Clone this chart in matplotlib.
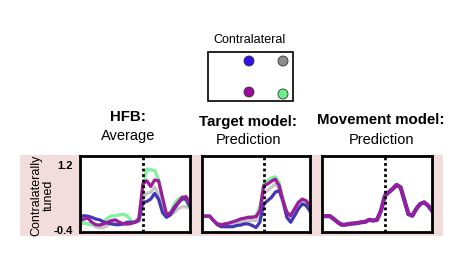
import numpy as np
import matplotlib
matplotlib.use("Agg")
import matplotlib.pyplot as plt
from matplotlib.patches import Rectangle, Circle

plt.rcParams['font.family'] = ['Liberation Sans', 'DejaVu Sans']

# time axis (s), event at 0
t = np.linspace(-1.0, 0.75, 29)

# HFB average
hfb_blue = [-0.07, -0.05, -0.06, -0.09, -0.13, -0.15, -0.20, -0.23, -0.25, -0.27, -0.27, -0.25, -0.21, -0.21, -0.21,
            -0.17, 0.28, 0.30, 0.36, 0.50, 0.36, 0.03, -0.09, -0.03, 0.12, 0.26, 0.36, 0.36, 0.17]
hfb_magenta = [-0.17, -0.13, -0.11, -0.21, -0.27, -0.28, -0.25, -0.21, -0.17, -0.15, -0.21, -0.25, -0.25, -0.24, -0.21,
               -0.13, 0.73, 0.81, 0.67, 0.83, 0.81, 0.40, -0.01, 0.01, 0.16, 0.28, 0.40, 0.42, 0.24]
hfb_green = [-0.21, -0.23, -0.25, -0.27, -0.28, -0.29, -0.21, -0.11, -0.05, -0.05, -0.03, -0.01, -0.05, -0.17, -0.21,
             -0.09, 0.65, 1.10, 1.08, 1.06, 0.85, 0.32, -0.01, 0.03, 0.24, 0.36, 0.42, 0.32, 0.12]
hfb_gray = [-0.25, -0.23, -0.24, -0.27, -0.32, -0.35, -0.34, -0.29, -0.23, -0.21, -0.21, -0.24, -0.27, -0.24, -0.21,
            -0.13, 0.40, 0.50, 0.53, 0.65, 0.49, 0.09, -0.05, -0.03, 0.03, 0.12, 0.17, 0.17, 0.14]

# target model prediction
tgt_blue = [-0.06, -0.06, -0.06, -0.17, -0.27, -0.32, -0.32, -0.32, -0.32, -0.29, -0.28, -0.25, -0.25, -0.29, -0.34,
            -0.21, 0.24, 0.32, 0.40, 0.53, 0.57, 0.32, -0.09, -0.21, -0.05, 0.12, 0.24, 0.20, 0.07]
tgt_magenta = [-0.06, -0.06, -0.06, -0.17, -0.25, -0.27, -0.25, -0.23, -0.20, -0.17, -0.13, -0.11, -0.09, -0.09, -0.07,
               0.07, 0.69, 0.73, 0.80, 0.85, 0.69, 0.32, 0.03, -0.05, 0.12, 0.28, 0.36, 0.32, 0.20]
tgt_green = [-0.06, -0.06, -0.06, -0.17, -0.25, -0.27, -0.25, -0.23, -0.20, -0.17, -0.13, -0.11, -0.08, -0.07, -0.05,
             0.16, 0.73, 0.81, 0.88, 0.91, 0.77, 0.36, 0.05, -0.03, 0.13, 0.28, 0.35, 0.30, 0.16]
tgt_gray = [-0.06, -0.06, -0.06, -0.17, -0.27, -0.30, -0.29, -0.27, -0.25, -0.23, -0.20, -0.18, -0.17, -0.17, -0.17,
            -0.02, 0.49, 0.57, 0.65, 0.73, 0.61, 0.24, -0.05, -0.09, 0.07, 0.20, 0.28, 0.24, 0.03]

# movement model prediction (same for all targets)
mov = [-0.06, -0.06, -0.06, -0.13, -0.21, -0.27, -0.27, -0.25, -0.24, -0.23, -0.21, -0.20, -0.15, -0.17, -0.15,
       0.07, 0.44, 0.53, 0.61, 0.71, 0.65, 0.32, -0.01, -0.05, 0.12, 0.24, 0.28, 0.20, 0.07]

titles = [("HFB:", "Average"), ("Target model:", "Prediction"), ("Movement model:", "Prediction")]
col_blue = "#4236b4"
col_mag = "#a01a9e"
col_green = "#80f29c"
col_gray = "#c6c6c6"

W, H = 465, 260
fig = plt.figure(figsize=(W / 100, H / 100), dpi=100)

# overlay in pixel coords
ov = fig.add_axes([0, 0, 1, 1])
ov.set_xlim(0, W)
ov.set_ylim(H, 0)
ov.axis("off")
ov.add_patch(Rectangle((20, 155), 423, 81, facecolor="#f3dcdc", edgecolor="none"))

# legend box
ov.text(249, 40, "Contralateral", ha="center", va="center", fontsize=9)
ov.add_patch(Rectangle((208, 52), 85, 49, facecolor="white", edgecolor="black", lw=1.2))
for (cx, cy), c in zip([(249, 61), (283, 61), (249, 92), (283, 94)],
                       ["#3311ee", "#8c8c8c", "#9c0a9c", "#6cf08a"]):
    ov.add_patch(Circle((cx, cy), 5, facecolor=c, edgecolor="#333333", lw=0.6))

# panel titles
title_x = [128, 248, 381]
title_y = [(117, 136), (122, 140), (120, 140)]
for (bold, sub), x, (y1, y2) in zip(titles, title_x, title_y):
    ov.text(x, y1, bold, ha="center", va="center", fontsize=10.8, fontweight="bold")
    ov.text(x, y2, sub, ha="center", va="center", fontsize=10.5)

panel_x = [(80, 190), (202, 310), (322, 432)]
data = [
    [(hfb_gray, col_gray), (hfb_green, col_green), (hfb_blue, col_blue), (hfb_magenta, col_mag)],
    [(tgt_gray, col_gray), (tgt_green, col_green), (tgt_blue, col_blue), (tgt_magenta, col_mag)],
    [(mov, col_gray), (mov, col_green), (mov, col_blue), (mov, col_mag)],
]

for i, ((x0, x1), series) in enumerate(zip(panel_x, data)):
    ax = fig.add_axes([x0 / W, (H - 232) / H, (x1 - x0) / W, 76 / H])
    for j, (y, c) in enumerate(series):
        lw = 2.3
        if i == 2 and c == col_blue:
            lw = 3.0
        ax.plot(t, y, color=c, lw=lw, solid_capstyle="round", solid_joinstyle="round")
    ax.axvline(0, color="black", lw=2.0, ls=(0, (1, 1)))
    ax.set_xlim(-1.0, 0.75)
    ax.set_ylim(-0.45, 1.42)
    ax.set_xticks([])
    for s in ax.spines.values():
        s.set_linewidth(2.0)
    if i == 0:
        ax.set_yticks([-0.4, 1.2])
        ax.set_yticklabels(["-0.4", "1.2"], fontsize=8, fontweight="bold")
        ax.tick_params(axis="y", length=0, pad=5)
    else:
        ax.set_yticks([])

ov.text(36, 195, "Contralaterally", rotation=90, ha="center", va="center", fontsize=9)
ov.text(49, 195, "tuned", rotation=90, ha="center", va="center", fontsize=9)

fig.savefig("out.png", dpi=100)
